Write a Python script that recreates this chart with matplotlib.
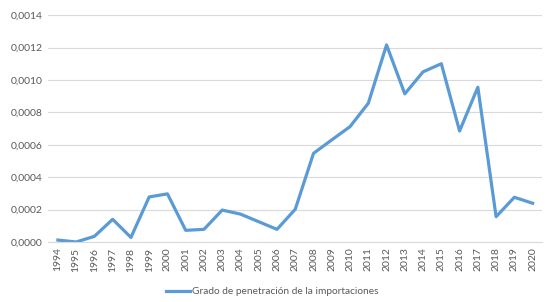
import matplotlib
matplotlib.use("Agg")
import matplotlib.pyplot as plt
from matplotlib.ticker import FuncFormatter

years = [str(y) for y in range(1994, 2021)]
values = [0.000012, 0.0, 0.000035, 0.00014, 0.000028, 0.000278, 0.000297,
          0.000072, 0.000078, 0.000197, 0.000172, 0.000125, 0.000078,
          0.000202, 0.000547, 0.00063, 0.000712, 0.000856, 0.001216,
          0.000914, 0.00105, 0.0011, 0.000685, 0.000955, 0.000156,
          0.000276, 0.000239]
series_name = "Grado de penetración de la importaciones"

plt.rcParams['font.family'] = ['Lato', 'DejaVu Sans']
fig = plt.figure(figsize=(5.5, 3.02), dpi=100)
ax = fig.add_axes([0.087, 0.1987, 0.898, 0.7513])
x = list(range(len(years)))
ax.plot(x, values, color='#5B9BD5', linewidth=2.3, label=series_name)
ax.set_xlim(-0.55, len(years) - 0.5)
ax.set_ylim(0, 0.0014)
ax.set_yticks([i * 0.0002 for i in range(8)])
ax.yaxis.set_major_formatter(FuncFormatter(lambda v, p: f"{v:.4f}".replace('.', ',')))
ax.set_xticks(x)
ax.set_xticklabels(years, rotation=90)
ax.grid(axis='y', color='#D9D9D9', linewidth=0.8)
ax.set_axisbelow(True)
for s in ['top', 'right', 'left']:
    ax.spines[s].set_visible(False)
ax.spines['bottom'].set_color('#D9D9D9')
ax.tick_params(axis='both', length=0, labelsize=7.5, colors='#595959', pad=4)
leg = fig.legend(loc='center', bbox_to_anchor=(0.495, 0.034), frameon=False,
                 fontsize=7.3, handlelength=2.4, handletextpad=0.2,
                 borderpad=0, borderaxespad=0)
for t in leg.get_texts():
    t.set_color('#595959')
fig.savefig('out.png', dpi=100)
